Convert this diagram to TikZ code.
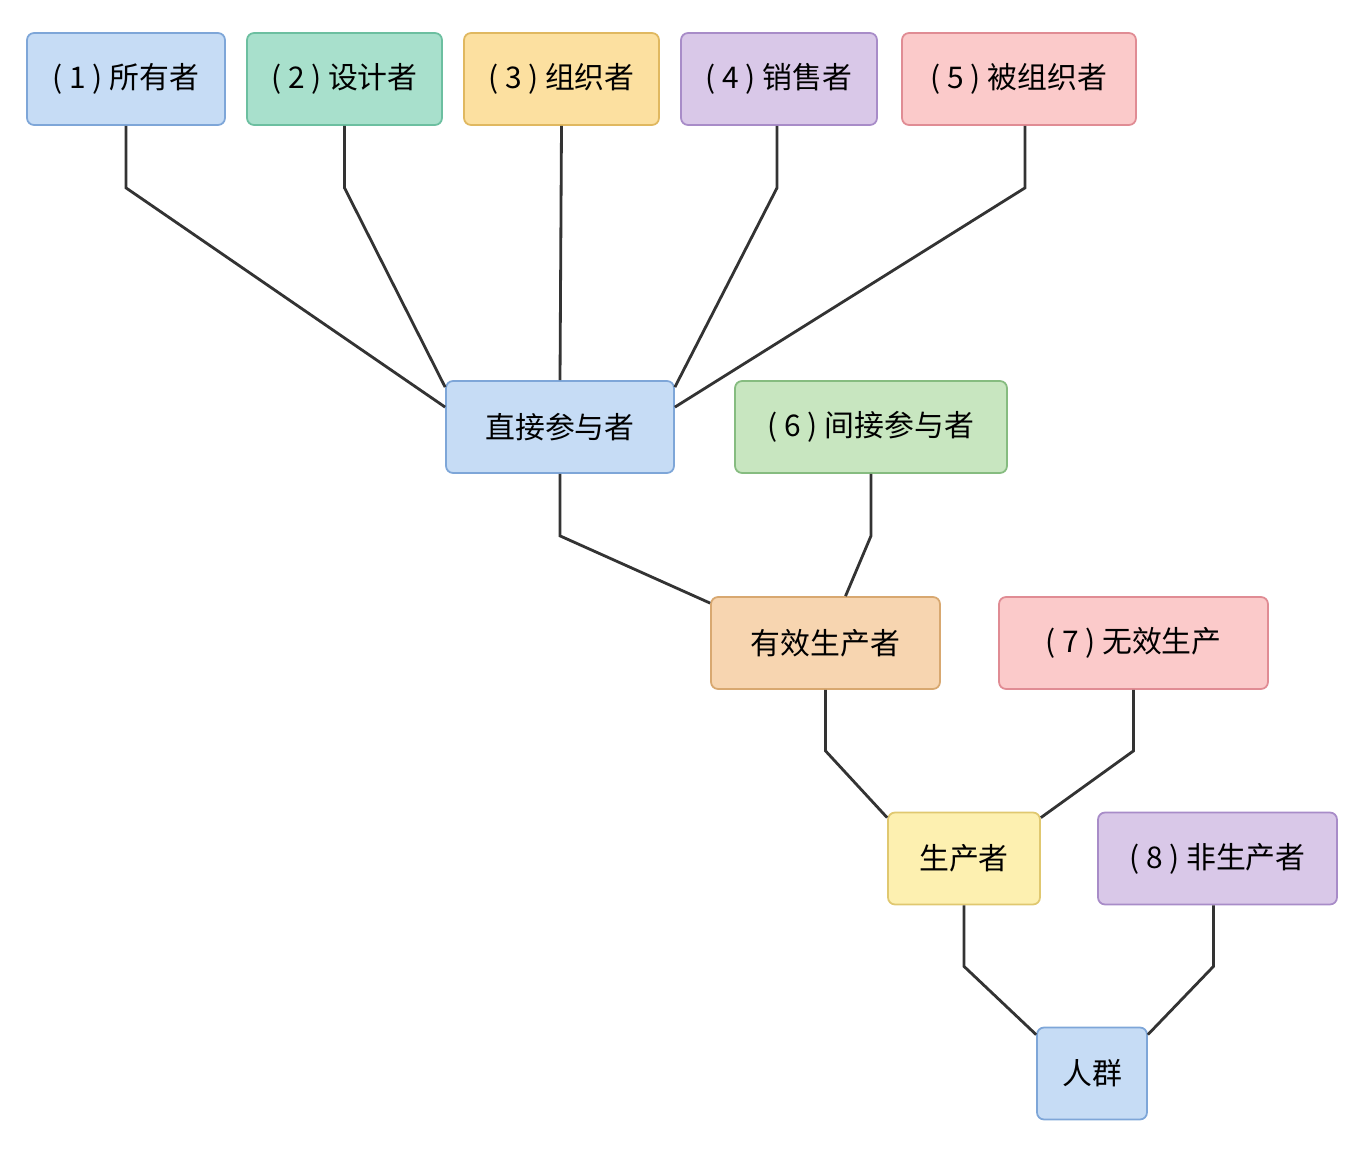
\documentclass[tikz,border=0pt]{standalone}
\usepackage{fontspec}
\setmainfont{Noto Sans CJK SC}
\usetikzlibrary{calc}
\definecolor{bluef}{HTML}{C6DCF5}\definecolor{blued}{HTML}{7EA6D8}
\definecolor{greenf}{HTML}{A8E0CC}\definecolor{greend}{HTML}{6CBFA0}
\definecolor{yelf}{HTML}{FCE0A0}\definecolor{yeld}{HTML}{E0B860}
\definecolor{purf}{HTML}{D9C8E8}\definecolor{purd}{HTML}{A88CC8}
\definecolor{pinkf}{HTML}{FBCACA}\definecolor{pinkd}{HTML}{E08C94}
\definecolor{lgrf}{HTML}{C8E6C0}\definecolor{lgrd}{HTML}{86BC80}
\definecolor{oraf}{HTML}{F7D5B0}\definecolor{orad}{HTML}{D8A870}
\definecolor{lyf}{HTML}{FDF0B0}\definecolor{lyd}{HTML}{E0C870}
\tikzset{box/.style={draw=#1d, fill=#1f, rounded corners=4pt, line width=1pt,
  minimum height=1.84cm, inner sep=0pt, font=\fontsize{17}{20}\selectfont},
  link/.style={draw=black!80, line width=1.6pt}}

\begin{document}
\begin{tikzpicture}[x=0.02cm, y=-0.02cm]
    \useasboundingbox (0,0) rectangle (1353,1162);

    \node[box=blue, minimum width=3.96cm] (own) at (126,79) {( 1 ) 所有者};
    \node[box=green, minimum width=3.9cm] (des) at (344.5,79) {( 2 ) 设计者};
    \node[box=yel, minimum width=3.9cm] (org) at (561.5,79) {( 3 ) 组织者};
    \node[box=pur, minimum width=3.92cm] (sal) at (779,79) {( 4 ) 销售者};
    \node[box=pink, minimum width=4.68cm] (orgd) at (1019,79) {( 5 ) 被组织者};

    \node[box=blue, minimum width=4.56cm] (dir) at (560,427) {直接参与者};
    \node[box=lgr, minimum width=5.44cm] (ind) at (871,427) {( 6 ) 间接参与者};

    \node[box=ora, minimum width=4.58cm] (eff) at (825.5,643) {有效生产者};
    \node[box=pink, minimum width=5.38cm] (ineff) at (1133.5,643) {( 7 ) 无效生产};

    \node[box=ly, minimum width=3.04cm] (pro) at (964,858.5) {生产者};
    \node[box=pur, minimum width=4.78cm] (non) at (1217.5,858.5) {( 8 ) 非生产者};

    \node[box=blue, minimum width=2.2cm] (crowd) at (1092,1073.5) {人群};

    % upper tier
    \draw[link] (own.south) -- ++(0,62) -- ([yshift=-0.54cm]dir.north west);
    \draw[link] (des.south) -- ++(0,62) -- ([yshift=-0.14cm]dir.north west);
    \draw[link] (org.south) -- (dir.north);
    \draw[link] ([xshift=-0.04cm]sal.south) -- ++(0,62) -- ([yshift=-0.14cm]dir.north east);
    \draw[link] ([xshift=0.12cm]orgd.south) -- ++(0,62) -- ([yshift=-0.54cm]dir.north east);

    % lower tiers
    \draw[link] (dir.south) -- ++(0,62) -- ([yshift=-0.14cm]eff.north west);
    \draw[link] (ind.south) -- ++(0,62) -- ([xshift=0.4cm]eff.north);
    \draw[link] (eff.south) -- ++(0,61) -- ([yshift=-0.12cm]pro.north west);
    \draw[link] (ineff.south) -- ++(0,61) -- ([yshift=-0.12cm]pro.north east);
    \draw[link] (pro.south) -- ++(0,61) -- ([yshift=-0.16cm]crowd.north west);
    \draw[link] ([xshift=-0.08cm]non.south) -- ++(0,61) -- ([yshift=-0.16cm]crowd.north east);
\end{tikzpicture}
\end{document}
